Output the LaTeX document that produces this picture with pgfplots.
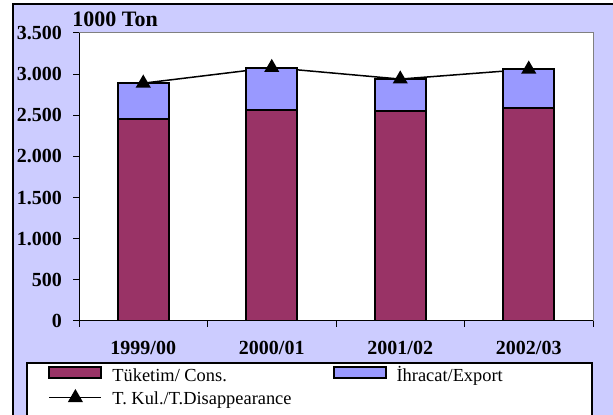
\documentclass[border=0pt]{standalone}
\usepackage{fontspec}
\setmainfont{Liberation Serif}
\usepackage{pgfplots}
\pgfplotsset{compat=1.18}
\definecolor{consred}{HTML}{993366}
\definecolor{expblue}{HTML}{9999FF}
\definecolor{panel}{HTML}{CCCCFF}
\definecolor{framegray}{HTML}{808080}

\pgfplotsset{
  barleg/.style={legend image code/.code={\draw[##1] (0pt,-0.6pt) rectangle (26pt,4.8pt);}},
  lineleg/.style={legend image code/.code={\draw[mark repeat=2, mark phase=2, ##1]
      plot coordinates {(0pt,1pt) (13pt,1pt) (26pt,1pt)};}},
}

\begin{document}
\begin{tikzpicture}
  \useasboundingbox (0,0) rectangle (306.5pt,207.5pt);
  \fill[white] (0,0) rectangle (306.5pt,207.5pt);
  \fill[panel] (6.5pt,-2pt) rectangle (308pt,205.5pt);
  \draw[line width=0.8pt] (6.5pt,-2pt) -- (6.5pt,205.5pt) -- (308pt,205.5pt);
  % legend frame, runs off the bottom like the original
  \draw[line width=0.6pt, fill=white] (13.5pt,-4pt) rectangle (296pt,26pt);

  \node[anchor=base west, inner sep=0pt, font=\bfseries\fontsize{11}{13}\selectfont]
    at (36pt,194pt) {1000 Ton};

  \begin{axis}[
    at={(39.5pt,47pt)}, anchor=south west,
    scale only axis, width=257pt, height=144pt,
    ybar stacked, bar width=0.4,
    xmin=-0.5, xmax=3.5, ymin=0, ymax=3500,
    xtick={-0.5,0.5,1.5,2.5,3.5}, xticklabels={},
    extra x ticks={0,1,2,3},
    extra x tick labels={1999/00,2000/01,2001/02,2002/03},
    extra x tick style={major tick length=0pt},
    ytick={0,500,...,3500},
    xtick pos=left, ytick pos=left,
    scaled y ticks=false,
    tick align=outside, major tick length=3pt,
    tick style={black, line width=0.5pt},
    tick label style={font=\bfseries\fontsize{10}{12}\selectfont},
    /pgf/number format/assume math mode=true,
    yticklabel style={/pgf/number format/1000 sep={.}, xshift=-2pt},
    xticklabel style={yshift=-6.5pt},
    axis background/.style={fill=white},
    axis line style={framegray, line width=0.5pt},
    legend columns=2,
    legend cell align=left,
    legend style={
      at={(-0.0603,-0.151)}, anchor=north west,
      draw=none, fill=none, inner sep=0pt,
      font=\fontsize{9.2}{11}\selectfont,
      nodes={inner sep=1.5pt, text height=6.6pt, text depth=2pt},
      row sep=0pt,
      /tikz/every even column/.append style={column sep=19pt},
      /tikz/every odd column/.append style={column sep=3.5pt}
    },
  ]
    \addplot[fill=consred, draw=black, line width=1pt, barleg]
      coordinates {(0,2450) (1,2570) (2,2550) (3,2590)};
    \addplot[fill=expblue, draw=black, line width=1pt, barleg]
      coordinates {(0,440) (1,510) (2,390) (3,470)};
    \addplot[sharp plot, stack plots=false, black, line width=0.75pt,
      mark=triangle*, mark size=3.6pt, mark options={fill=black}, lineleg]
      coordinates {(0,2890) (1,3080) (2,2940) (3,3060)};
    \legend{Tüketim/ Cons., İhracat/Export, T. Kul./T.Disappearance}
    \draw[black, line width=0.5pt]
      (rel axis cs:0,1) -- (rel axis cs:0,0) -- (rel axis cs:1,0);
  \end{axis}
\end{tikzpicture}
\end{document}
